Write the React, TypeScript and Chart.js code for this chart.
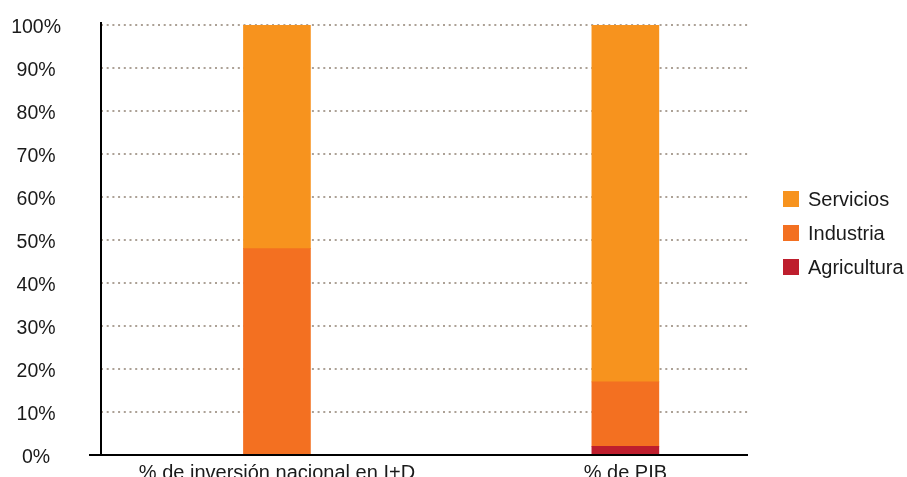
import { useEffect, useRef } from 'react';
import { Chart, registerables } from 'chart.js';

Chart.register(...registerables);

// Sector shares, stacked bottom-to-top: Agricultura, Industria, Servicios
const categories = ['% de inversión nacional en I+D', '% de PIB'];
const agricultura = [0, 2];
const industria = [48, 15];
const servicios = [52, 83];
const yTickStep = 10;

const FONT = '"Liberation Sans", Arial, Helvetica, sans-serif';
const TEXT = '#1a1a1a';

const COLORS = {
  agricultura: '#BE1E2D',
  industria: '#F37021',
  servicios: '#F7931E',
};

// Black axis lines; the baseline runs a little past the vertical axis.
const axisLines = {
  id: 'axisLines',
  afterDatasetsDraw(chart: any) {
    const { ctx, chartArea } = chart;
    const { left, right, top, bottom } = chartArea;
    ctx.save();
    ctx.strokeStyle = '#000';
    ctx.lineWidth = 2;
    ctx.beginPath();
    ctx.moveTo(left, top - 3);
    ctx.lineTo(left, bottom);
    ctx.moveTo(left - 12, bottom);
    ctx.lineTo(right, bottom);
    ctx.stroke();
    ctx.restore();
  },
};

// Legend at the right, listed top-down in the reverse of the stacking order.
const sideLegend = {
  id: 'sideLegend',
  afterDraw(chart: any) {
    const { ctx, chartArea } = chart;
    const items = chart.data.datasets
      .map((ds: any) => ({ label: ds.label, color: ds.backgroundColor }))
      .reverse();
    const x = chartArea.right + 35;
    const midY = (chartArea.top + chartArea.bottom) / 2 - 7;
    const gap = 34;
    ctx.save();
    ctx.font = `20px ${FONT}`;
    ctx.textBaseline = 'middle';
    ctx.textAlign = 'left';
    items.forEach((it: any, i: number) => {
      const cy = midY + (i - (items.length - 1) / 2) * gap;
      ctx.fillStyle = it.color;
      ctx.fillRect(x, cy - 8, 16, 16);
      ctx.fillStyle = TEXT;
      ctx.fillText(it.label, x + 25, cy + 1);
    });
    ctx.restore();
  },
};

const toPoints = (values: number[]) => values.map((v, i) => ({ x: i, y: v }));

const noOverflow = (scale: any) => {
  scale.paddingLeft = 0;
  scale.paddingRight = 0;
  scale.paddingTop = 0;
  scale.paddingBottom = 0;
};

export default function App() {
  const canvasRef = useRef<HTMLCanvasElement | null>(null);

  useEffect(() => {
    const canvas = canvasRef.current;
    if (!canvas) return;
    const chart = new Chart(canvas, {
      type: 'bar',
      data: {
        datasets: [
          { label: 'Agricultura', data: toPoints(agricultura), backgroundColor: COLORS.agricultura },
          { label: 'Industria', data: toPoints(industria), backgroundColor: COLORS.industria },
          { label: 'Servicios', data: toPoints(servicios), backgroundColor: COLORS.servicios },
        ],
      } as any,
      options: {
        responsive: false,
        animation: false,
        devicePixelRatio: 1,
        layout: { padding: { left: 11, right: 159, top: 25, bottom: 1 } },
        datasets: { bar: { barThickness: 67, borderWidth: 0 } },
        plugins: {
          legend: { display: false },
          tooltip: { enabled: false },
        },
        scales: {
          x: {
            type: 'linear',
            min: -0.505,
            max: 1.352,
            offset: false,
            stacked: true,
            grid: { display: false, drawTicks: false, offset: false },
            border: { display: false },
            afterBuildTicks: (axis: any) => {
              axis.ticks = categories.map((_, i) => ({ value: i }));
            },
            afterFit: (scale: any) => {
              noOverflow(scale);
              scale.height = 28;
            },
            ticks: {
              callback: (v: any) => categories[v as number] ?? '',
              autoSkip: false,
              maxRotation: 0,
              minRotation: 0,
              padding: 6,
              color: TEXT,
              font: { size: 20, family: FONT },
            },
          },
          y: {
            min: 0,
            max: 100,
            stacked: true,
            grid: { color: '#aca196', lineWidth: 2, drawTicks: false },
            border: { display: false, dash: [2, 3.7] },
            afterFit: (scale: any) => {
              noOverflow(scale);
              scale.width = 90;
            },
            ticks: {
              stepSize: yTickStep,
              callback: (v: any) => `${v}%`,
              crossAlign: 'center',
              padding: 40,
              labelOffset: 3,
              color: TEXT,
              font: { size: 19.5, family: FONT },
            },
          },
        },
      } as any,
      plugins: [axisLines, sideLegend],
    });
    return () => chart.destroy();
  }, []);

  return (
    <div
      style={{
        position: 'fixed',
        left: 0,
        top: 0,
        width: 907,
        height: 477,
        overflow: 'hidden',
        background: '#fff',
      }}
    >
      <canvas ref={canvasRef} width={907} height={484} style={{ display: 'block' }} />
    </div>
  );
}
